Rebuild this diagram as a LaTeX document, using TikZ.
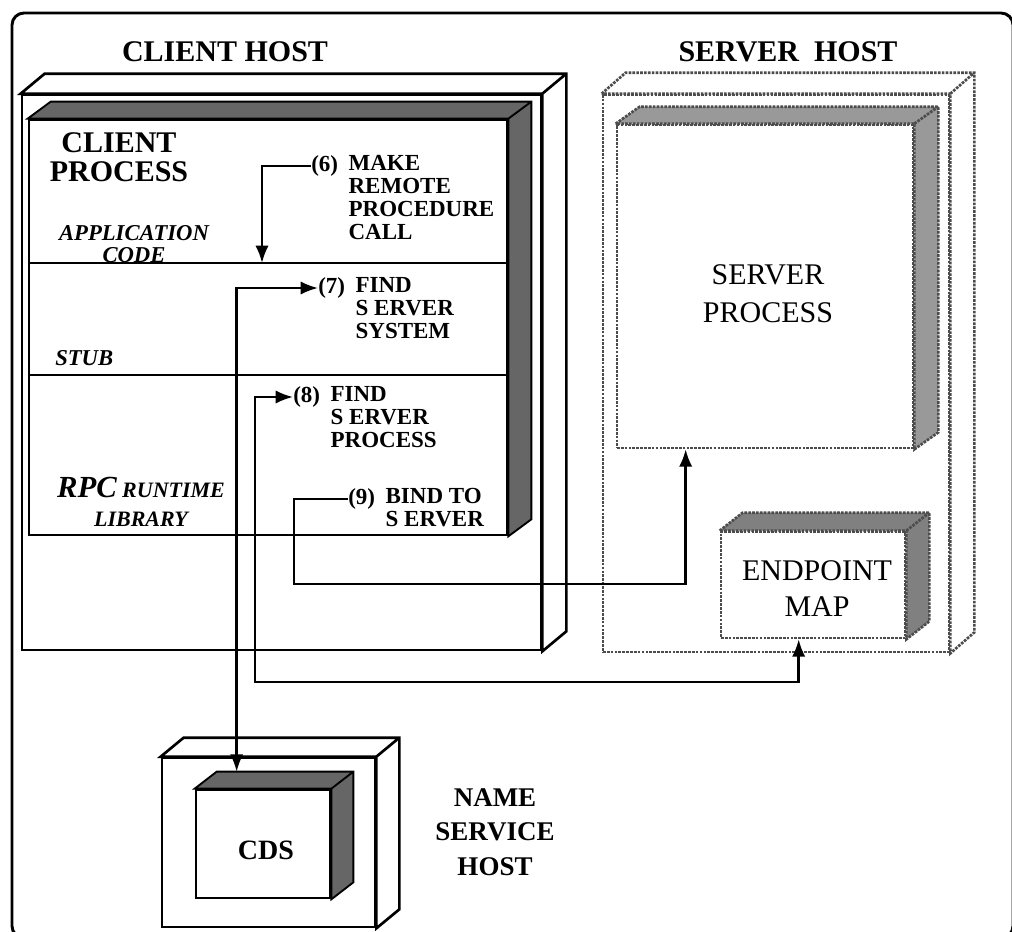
\documentclass[tikz,border=0pt]{standalone}
\usepackage{fontspec}
\setmainfont{Liberation Serif}
\usetikzlibrary{arrows.meta,positioning,calc,fit}

% top and side faces behind a front rectangle node: node, dx, dy, style
\newcommand{\sideface}[4]{%
  \draw[#4] (#1.north west) -- ++(#2,-#3) -- ($(#1.north east)+(#2,-#3)$)
    -- ($(#1.south east)+(#2,-#3)$) -- (#1.south east) -- (#1.north east) -- cycle
    (#1.north east) -- ++(#2,-#3);
}

\tikzset{
  hostline/.style={line width=2pt},
  dashline/.style={line width=2pt, draw=black!70, dash pattern=on 2pt off 0.9pt},
  boxface/.style={draw, fill=white, inner sep=0pt},
  hosttitle/.style={font=\fontsize{22.5pt}{26pt}\selectfont\bfseries, inner sep=0pt, align=center},
  procname/.style={font=\fontsize{22.5pt}{28.5pt}\selectfont},
  layerlbl/.style={font=\fontsize{17pt}{16.5pt}\selectfont\bfseries\itshape, inner sep=0pt, align=center},
  steplbl/.style={font=\fontsize{17.25pt}{17.25pt}\selectfont\bfseries, inner sep=0pt, align=left},
  flow/.style={line width=1.8pt},
  layer/.style={line width=1.4pt}
}

\begin{document}
\begin{tikzpicture}[x=0.75pt, y=-0.75pt, >={Latex[length=13pt,width=10pt]}]
\useasboundingbox (0,0) rectangle (1012,931);
\draw[line width=2.2pt, rounded corners=9pt] (12,13) rectangle (1013,938);

% client host
\node[boxface, hostline, fit={(22,95) (541,650)}] (chost) {};
\sideface{chost}{24}{20}{hostline, fill=white}
\node[boxface, hostline, fit={(29,120) (507,535)}] (cproc) {};
\sideface{cproc}{23}{17}{line width=1.4pt, fill=black!60}

\coordinate (a6) at (262,263);
\coordinate (s6) at (262,375);
\draw[layer] (cproc.west |- a6) -- (cproc.east |- a6);
\draw[layer, line width=1.1pt] (cproc.west |- s6) -- (cproc.east |- s6);

\node[hosttitle] (chtitle) at (225,52) {CLIENT HOST};
\node[hosttitle, font=\fontsize{22.5pt}{21.75pt}\selectfont\bfseries] (cptitle) at (119,157) {CLIENT\\PROCESS};
\node[layerlbl] (appl) at (134,244) {APPLICATION\\CODE};
\node[layerlbl, anchor=west] (stub) at (55,358) {STUB};
\node[layerlbl, font=\fontsize{16.5pt}{21.5pt}\selectfont\bfseries\itshape] (rtlib) at (141,502)
  {{\fontsize{23pt}{23pt}\selectfont RPC} RUNTIME\\LIBRARY};

% server host
\node[boxface, dashline, fit={(603,95) (949,652)}] (shost) {};
\sideface{shost}{24}{21}{dashline, fill=white}
\node[boxface, dashline, fit={(617,125) (913,448)}] (sproc) {};
\sideface{sproc}{24}{17}{dashline, fill=black!40}
\node[procname, align=center] (spname) at (768,294) {SERVER\\PROCESS};
\node[boxface, dashline, fit={(721,532) (905,638)}] (emap) {};
\sideface{emap}{23}{18}{dashline, fill=black!50}
\node[procname, align=center, font=\fontsize{22.5pt}{27pt}\selectfont] (emname) at (817,589) {ENDPOINT\\MAP};
\node[hosttitle] (shtitle) at (788,52) {SERVER\ \ HOST};

% name service host
\node[boxface, hostline, fit={(162,758) (375,927)}] (nhost) {};
\sideface{nhost}{23}{19}{hostline, fill=white}
\node[boxface, hostline, fit={(196,790) (330,898)}] (cds) {};
\sideface{cds}{22}{17}{line width=1.4pt, fill=black!60}
\node[hosttitle, font=\fontsize{21pt}{21pt}\selectfont\bfseries] (cdsname) at (266,850) {CDS};
\node[hosttitle, font=\fontsize{20.25pt}{26pt}\selectfont\bfseries] (nstitle) at (495,832) {NAME\\SERVICE\\HOST};

% steps
\node[steplbl, anchor=west] (n6) at (311,166) {(6)};
\node[steplbl, right=7.5pt of n6.north east, anchor=north west] (t6) {MAKE\\REMOTE\\PROCEDURE\\CALL};
\node[steplbl, anchor=west] (n7) at (318,288) {(7)};
\node[steplbl, right=7.5pt of n7.north east, anchor=north west] (t7) {FIND\\S ERVER\\SYSTEM};
\node[steplbl, anchor=west] (n8) at (293,397) {(8)};
\node[steplbl, right=7.5pt of n8.north east, anchor=north west] (t8) {FIND\\S ERVER\\PROCESS};
\node[steplbl, anchor=west] (n9) at (348,499) {(9)};
\node[steplbl, right=7.5pt of n9.north east, anchor=north west] (t9) {BIND TO\\S ERVER};

\coordinate (c7) at ($(cds.north west)+(42,-17)$);
\coordinate (c8) at (255,682);
\coordinate (e8) at ($(emap.south west)+(79,0)$);
\coordinate (c9) at (294,584);
\coordinate (e9) at ($(sproc.south west)+(70,0)$);

\draw[flow, ->] (n6.west) -| (a6);
\draw[flow, <->] (n7.west) -| (c7);
\draw[flow, <->] (n8.west) -| (c8) -| (e8);
\draw[flow, ->] (n9.west) -| (c9) -| (e9);

\end{tikzpicture}
\end{document}
